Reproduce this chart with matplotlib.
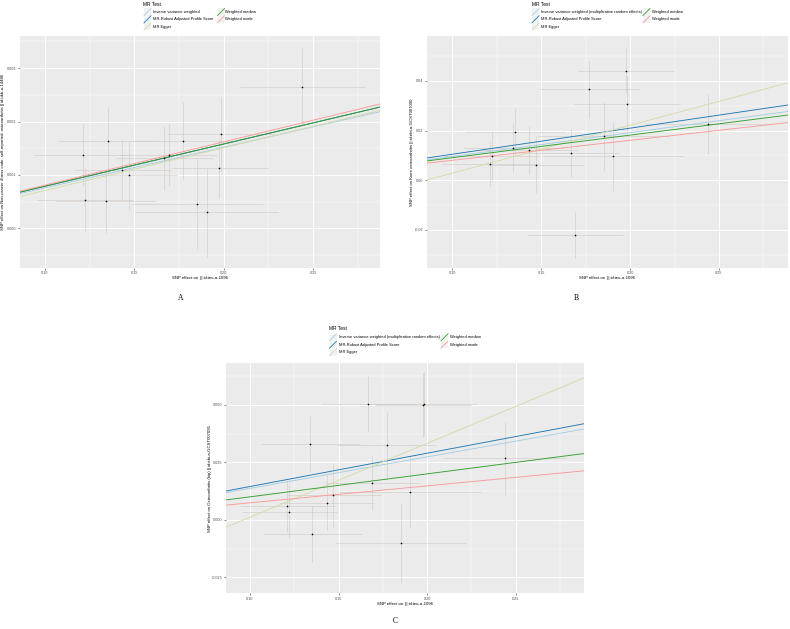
import matplotlib
matplotlib.use("Agg")
import matplotlib.pyplot as plt
from matplotlib.lines import Line2D
from matplotlib.patches import Rectangle
import numpy as np

plt.rcParams['font.family'] = ['Liberation Sans', 'DejaVu Sans']

# ---------------- data ----------------
# exposure SNP effects (shared by all panels) and their standard errors
beta_exp = [0.1211, 0.1223, 0.1340, 0.1352, 0.1432, 0.1471, 0.1668,
            0.1691, 0.1771, 0.1851, 0.1905, 0.1976, 0.1983, 0.2440]
se_exp = [0.027, 0.027, 0.028, 0.028, 0.027, 0.027, 0.027,
          0.027, 0.028, 0.037, 0.040, 0.027, 0.030, 0.035]

# Panel A outcome
beta_A = [0.00137, 0.000536, 0.000505, 0.00164, 0.001097, 0.000991, 0.00132,
          0.00137, 0.00164, 0.000455, 0.000305, 0.00113, 0.001765, 0.00264]
se_A = [0.00058, 0.00059, 0.00059, 0.00063, 0.00056, 0.00064, 0.00060,
        0.00058, 0.00072, 0.00084, 0.00083, 0.00056, 0.00070, 0.00073]

# Panel B outcome
beta_B = [0.0066, 0.0097, 0.0132, 0.0196, 0.0123, 0.0063, 0.0111,
          -0.0220, 0.0366, 0.0177, 0.0096, 0.0442, 0.0306, 0.0227]
se_B = [0.0087, 0.0100, 0.0097, 0.0097, 0.0097, 0.0114, 0.0096,
        0.0094, 0.0114, 0.0140, 0.0140, 0.0090, 0.0114, 0.0120]

# Panel C outcome
beta_C = [0.0058, 0.0036, 0.0331, -0.0061, 0.0074, 0.0107, 0.0504,
          0.0162, 0.0325, -0.0102, 0.0123, 0.0500, 0.0504, 0.0267]
se_C = [0.0113, 0.0116, 0.0122, 0.0123, 0.0120, 0.0138, 0.0121,
        0.0118, 0.0145, 0.0174, 0.0160, 0.0138, 0.0138, 0.0160]

methods = ["Inverse variance weighted", "MR-Robust Adjusted Profile Score",
           "MR Egger", "Weighted median", "Weighted mode"]
method_colors = ["#a6cee3", "#1f78b4", "#d4dcaa", "#33a02c", "#fb9a99"]

# slopes / intercepts per panel (order as methods)
slope_A = [0.0076, 0.0079, 0.0080, 0.0079, 0.0081]
icpt_A = [0.0, 0.0, -0.00009, 0.0, 0.0]
slope_B = [0.096, 0.105, 0.1927, 0.091, 0.0805]
icpt_B = [0.0, 0.0, -0.0164, 0.0, 0.0]
slope_C = [0.137, 0.145, 0.322, 0.100, 0.0739]
icpt_C = [0.0, 0.0, -0.0311, 0.0, 0.0]

x_ticks = [0.10, 0.15, 0.20, 0.25]
yticks_A = [0.000, 0.001, 0.002, 0.003]
yticks_B = [-0.02, 0.00, 0.02, 0.04]
yticks_C = [-0.025, 0.000, 0.025, 0.050]

xlabel = "SNP effect on  || id:ieu-a-1096"
ylabel_A = "SNP effect on Non-cancer illness code, self-reported: osteoarthritis || id:ukb-a-14486"
ylabel_B = "SNP effect on Knee osteoarthritis || id:ebi-a-GCST007090"
ylabel_C = "SNP effect on Osteoarthritis (hip) || id:ebi-a-GCST007091"
ivw_A = "Inverse variance weighted"
ivw_BC = "Inverse variance weighted (multiplicative random effects)"

# ---------------- figure ----------------
W, H = 790, 629
fig = plt.figure(figsize=(W / 100, H / 100), dpi=100)
fig.patch.set_facecolor("white")


def fx(px):
    return px / W


def fy(py):
    return 1 - py / H


def draw_panel(rect_px, ys, yerrs, slopes, icpts, yticks, yfmt, ylim, xlim,
               ylabel, ylab_x, xlab_y, minor_y):
    x0, y0, x1, y1 = rect_px
    ax = fig.add_axes([fx(x0), fy(y1), (x1 - x0) / W, (y1 - y0) / H])
    ax.set_facecolor("#ebebeb")
    for s in ax.spines.values():
        s.set_visible(False)
    ax.set_xlim(*xlim)
    ax.set_ylim(*ylim)
    # grid
    for v in [0.075, 0.125, 0.175, 0.225, 0.275]:
        ax.axvline(v, color="white", lw=0.35, zorder=0)
    for v in x_ticks:
        ax.axvline(v, color="white", lw=0.7, zorder=0)
    for v in minor_y:
        ax.axhline(v, color="white", lw=0.35, zorder=0)
    for v in yticks:
        ax.axhline(v, color="white", lw=0.7, zorder=0)
    ax.set_xticks(x_ticks)
    ax.set_xticklabels(["%.2f" % v for v in x_ticks])
    ax.set_yticks(yticks)
    ax.set_yticklabels([yfmt % v for v in yticks])
    ax.tick_params(labelsize=2.7, colors="#333333", labelcolor="#4d4d4d",
                   length=1.5, width=0.4, pad=1)
    # error bars
    ax.errorbar(beta_exp, ys, xerr=se_exp, yerr=yerrs, fmt="none",
                ecolor="#cdc8c4", elinewidth=0.4, capsize=0, zorder=2)
    # lines
    xs = np.array(xlim)
    for k in range(len(methods)):
        ax.plot(xs, icpts[k] + slopes[k] * xs, color=method_colors[k],
                lw=0.65, zorder=3)
    ax.set_xlim(*xlim)
    ax.scatter(beta_exp, ys, s=1.4, color="black", zorder=4, linewidths=0)
    ax.set_xlabel(xlabel, fontsize=3.1)
    ax.xaxis.set_label_coords(0.5, xlab_y)
    ax.xaxis.label.set_va("center")
    ax.set_ylabel(ylabel, fontsize=3.1)
    ax.yaxis.set_label_coords(ylab_x, 0.5)
    ax.yaxis.label.set_va("center")
    return ax


def draw_legend(title_xy, key_x, text_x, col2_key_x, col2_text_x, rows_y, ivw_label):
    fig.text(fx(title_xy[0]), fy(title_xy[1]), "MR Test", fontsize=3.5,
             ha="left", va="center", color="black")
    labels = [ivw_label] + methods[1:]
    pos = [(key_x, text_x, rows_y[0]), (key_x, text_x, rows_y[1]),
           (key_x, text_x, rows_y[2]), (col2_key_x, col2_text_x, rows_y[0]),
           (col2_key_x, col2_text_x, rows_y[1])]
    for k, (kx, tx, ry) in enumerate(pos):
        kw, kh = 7.0, 7.0
        fig.add_artist(Rectangle((fx(kx), fy(ry + kh / 2)), kw / W, kh / H,
                                 transform=fig.transFigure, facecolor="#f2f2f2",
                                 edgecolor="none"))
        fig.add_artist(Line2D([fx(kx), fx(kx + kw)], [fy(ry + kh / 2), fy(ry - kh / 2)],
                              transform=fig.transFigure, color=method_colors[k], lw=0.6))
        fig.text(fx(tx), fy(ry), labels[k], fontsize=2.9, ha="left", va="center",
                 color="black")


# Panel A
draw_panel((20, 36, 380, 268), beta_A, se_A, slope_A, icpt_A, yticks_A, "%.3f",
           (-0.00074, 0.0036), (0.086, 0.2874), ylabel_A, -0.046, -0.042,
           [-0.0005, 0.0005, 0.0015, 0.0025, 0.0035])
draw_legend((143, 4), 144, 152.7, 217.5, 225, [12, 19.3, 26.7], ivw_A)
fig.text(fx(181), fy(298), "A", fontsize=5.5, family="Liberation Serif",
         ha="center", va="center")

# Panel B
draw_panel((426.7, 36, 788, 268), beta_B, se_B, slope_B, icpt_B, yticks_B, "%.2f",
           (-0.0353, 0.0581), (0.0856, 0.2888), ylabel_B, -0.041, -0.045,
           [-0.03, -0.01, 0.01, 0.03, 0.05])
draw_legend((532, 4), 532, 541, 643, 651.7, [12, 19.3, 26.7], ivw_BC)
fig.text(fx(576), fy(298), "B", fontsize=5.5, family="Liberation Serif",
         ha="center", va="center")

# Panel C
draw_panel((225.7, 362.7, 584, 593.3), beta_C, se_C, slope_C, icpt_C, yticks_C, "%.3f",
           (-0.032, 0.0684), (0.0863, 0.2885), ylabel_C, -0.044, -0.046,
           [-0.0125, 0.0125, 0.0375, 0.0625])
draw_legend((329, 329), 329.5, 339.3, 441, 450, [337.3, 344.7, 352], ivw_BC)
fig.text(fx(395), fy(621), "C", fontsize=5.5, family="Liberation Serif",
         ha="center", va="center")

fig.savefig("out.png", dpi=100, facecolor="white")
